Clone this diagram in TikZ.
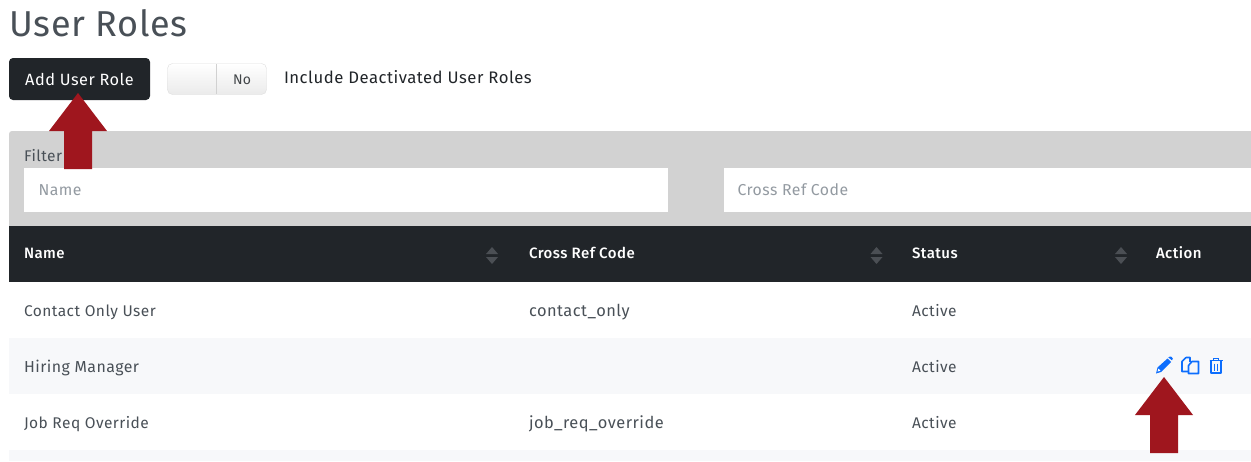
\documentclass[tikz,border=0pt]{standalone}
\usepackage{fontspec}
\setmainfont{Fira Sans}[LetterSpace=3]
\newfontfamily\medfont{Fira Sans Medium}[LetterSpace=3]
\newfontfamily\titlefont{Fira Sans}[LetterSpace=2]
\usetikzlibrary{calc}
\definecolor{darkbar}{HTML}{212529}
\definecolor{filtergray}{HTML}{D2D2D2}
\definecolor{stripe}{HTML}{F7F8FA}
\definecolor{crimson}{HTML}{9F161E}
\definecolor{bodytext}{HTML}{495057}
\definecolor{hint}{HTML}{939AA1}
\definecolor{iconblue}{HTML}{0D6EFD}
\definecolor{sortgray}{HTML}{4B4F54}
\tikzset{
  txt/.style={anchor=base west,inner sep=0pt,outer sep=0pt,text=bodytext,font=\fontsize{15.5}{17}\selectfont},
  head/.style={anchor=base west,inner sep=0pt,outer sep=0pt,text=white,font=\medfont\fontsize{15}{17}\selectfont},
  hinttxt/.style={txt,text=hint,font=\fontsize{15.8}{17}\selectfont},
  wide/.style={font=\fontsize{16.4}{17}\selectfont},
  bigarrow/.style={fill=crimson,draw=none},
  sorttri/.style={fill=sortgray,draw=none},
  iconline/.style={draw=iconblue,line width=1.6pt,line join=round,fill=none},
}
\newcommand{\sortpair}[1]{%
  \fill[sorttri] (#1-6,254) -- (#1,247) -- (#1+6,254) -- cycle;
  \fill[sorttri] (#1-6,257) -- (#1,264) -- (#1+6,257) -- cycle;}
\newcommand{\uparrowat}[2]{%
  \fill[bigarrow] (#1,#2) -- (#1+29,#2+38) -- (#1+14,#2+38) -- (#1+14,#2+76) -- (#1-14,#2+76) -- (#1-14,#2+38) -- (#1-29,#2+38) -- cycle;}
\begin{document}
\begin{tikzpicture}[x=1pt,y=-1pt]
\useasboundingbox (0,0) rectangle (1251,461);
\fill[white] (0,0) rectangle (1251,461);
% title
\node[anchor=base west,inner sep=0,text=bodytext,font=\titlefont\fontsize{36}{40}\selectfont] (title) at (9,36) {User Roles};
% button
\node[fill=darkbar,rounded corners=4pt,minimum width=141pt,minimum height=42pt,inner sep=0,text=white,font=\fontsize{16.3}{19}\selectfont] (addbtn) at (79.5,79) {Add User Role};
% toggle
\draw[rounded corners=5pt,draw=black!13,top color=white,bottom color=black!8] (167.5,63.5) rectangle (266.5,94.5);
\draw[draw=black!18] (216.5,64) -- (216.5,94);
\node[txt,text=darkbar!85,font=\fontsize{14}{16}\selectfont] (no) at (233,84) {No};
\node[txt,text=darkbar,font=\fontsize{16.7}{19}\selectfont] (incl) at (284,83) {Include Deactivated User Roles};
% filter
\fill[filtergray,rounded corners=3pt] (9,131) rectangle (1270,240);
\node[txt] (filter) at (24,161) {Filter};
\fill[white] (24,168) rectangle (668,212);
\fill[white] (724,168) rectangle (1251,212);
\node[hinttxt] (fname) at (38.5,195) {Name};
\node[hinttxt] (fcross) at (737.5,195) {Cross Ref Code};
% table
\fill[darkbar] (9,226) rectangle (1251,282);
\fill[stripe] (9,338) rectangle (1251,394);
\fill[stripe] (9,450) rectangle (1251,461);
\node[head] (h1) at (24,258) {Name};
\node[head] (h2) at (529,258) {Cross Ref Code};
\node[head] (h3) at (912,258) {Status};
\node[head] (h4) at (1156,258) {Action};
\sortpair{492}\sortpair{876.5}\sortpair{1121}
\node[txt] (r1a) at (24,316) {Contact Only User};
\node[txt,wide] (r1b) at (529,316) {contact\_only};
\node[txt] (r1c) at (912,316) {Active};
\node[txt,font=\fontsize{15.9}{17}\selectfont] (r2a) at (24,372) {Hiring Manager};
\node[txt] (r2c) at (912,372) {Active};
\node[txt] (r3a) at (24,428) {Job Req Override};
\node[txt,wide] (r3b) at (529,428) {job\_req\_override};
\node[txt] (r3c) at (912,428) {Active};
% pencil
\fill[iconblue] (1156,373.5) -- (1157.5,367.5) -- (1167.5,358.5) -- (1171,362) -- (1161,372) -- cycle;
\fill[iconblue] (1168.3,357.4) -- (1170,356.5) -- (1171.5,356.8) -- (1172.8,358.5) -- (1172,360.4) -- cycle;
\fill[white] (1157.6,371.6) -- (1158.4,368.6) -- (1160.4,370.6) -- cycle;
% copy
\draw[iconline] (1186,357.5) -- (1190,357.5) -- (1190,362) (1186,357.5) -- (1182,361.5) -- (1182,371.5) -- (1188.5,371.5);
\draw[iconline] (1192,361.5) -- (1198.5,361.5) -- (1198.5,373.5) -- (1188.5,373.5) -- (1188.5,365.5) -- cycle;
% trash
\draw[iconblue,line width=1.6pt] (1209.5,360.5) -- (1222.5,360.5);
\draw[iconblue,line width=1.4pt] (1213.5,360) -- (1213.5,358.5) -- (1218.5,358.5) -- (1218.5,360);
\draw[iconline,line width=1.9pt] (1211,361) -- (1211,372.7) -- (1221,372.7) -- (1221,361);
\draw[iconblue,line width=1.5pt] (1214.6,363.5) -- (1214.6,370.5) (1217.4,363.5) -- (1217.4,370.5);
% arrows
\uparrowat{78}{93}
\uparrowat{1164}{377}
\end{tikzpicture}
\end{document}
